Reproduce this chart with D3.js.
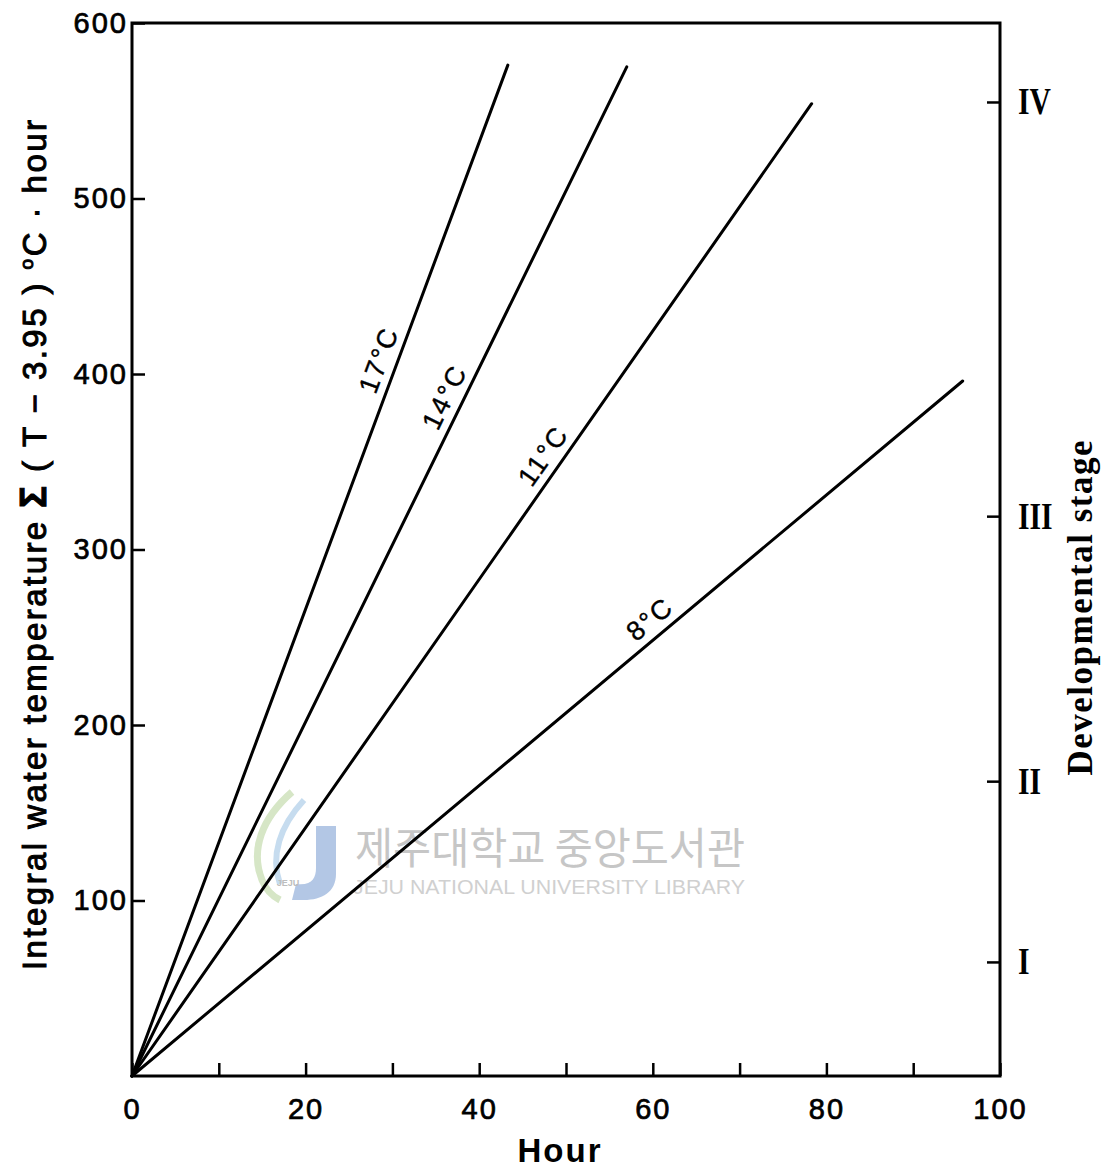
<!DOCTYPE html>
<html>
<head>
<meta charset="utf-8">
<script src="https://cdn.jsdelivr.net/npm/d3@7"></script>
<style>
  body { margin: 0; background: #fff; }
  svg { display: block; }
</style>
</head>
<body>
<svg id="chart" width="1107" height="1171"></svg>
<script>
// Cumulative thermal sum above 3.95 °C, one straight line per rearing temperature
const temps = [17, 14, 11, 8];
const endHours = [43.3, 57.0, 78.3, 95.7];
const endSums = [576, 575, 554, 396];
const labelHours = [30.4, 37.9, 49.1, 61.0];

// Axis ticks
const xTicks = [0, 10, 20, 30, 40, 50, 60, 70, 80, 90, 100];
const xLabels = [0, 20, 40, 60, 80, 100];
const yTicks = [100, 200, 300, 400, 500, 600];

// Developmental stages on the right-hand axis
const stageNames = ["I", "II", "III", "IV"];
const stageSums = [65, 168, 319, 555];

const svg = d3.select("#chart");
const m = { left: 132, right: 1000, top: 23, bottom: 1076 };

const x = d3.scaleLinear().domain([0, 100]).range([m.left, m.right]);
const y = d3.scaleLinear().domain([0, 600]).range([m.bottom, m.top]);

const sans = "'Liberation Sans', Arial, sans-serif";
const serif = "'Liberation Serif', 'Times New Roman', serif";

// ---- library watermark (drawn first, underneath the data) ----
const wm = svg.append("g").attr("class", "watermark");
wm.append("path")
  .attr("d", "M292,792 C262,818 250,850 262,880 C266,890 272,896 280,900")
  .attr("fill", "none").attr("stroke", "#d6e6c6").attr("stroke-width", 7);
wm.append("path")
  .attr("d", "M304,800 C280,826 270,856 280,884")
  .attr("fill", "none").attr("stroke", "#c6dcef").attr("stroke-width", 6);
wm.append("path")
  .attr("d", "M316,826 L336,826 L336,874 C336,892 322,900 304,900 L292,900 L296,884 C312,886 316,878 316,868 Z")
  .attr("fill", "#b3c7e5");
wm.append("text")
  .attr("x", 288).attr("y", 886)
  .attr("text-anchor", "middle")
  .attr("font-family", sans).attr("font-size", 9).attr("font-weight", "bold")
  .attr("fill", "#bdbdbd")
  .text("JEJU");
wm.append("text")
  .attr("x", 355).attr("y", 864)
  .attr("font-family", "'Noto Sans CJK KR', sans-serif")
  .attr("font-size", 43)
  .attr("fill", "#c6c6c6")
  .attr("textLength", 390).attr("lengthAdjust", "spacingAndGlyphs")
  .text("제주대학교 중앙도서관");
wm.append("text")
  .attr("x", 353).attr("y", 894)
  .attr("font-family", sans)
  .attr("font-size", 20)
  .attr("fill", "#d0d0d0")
  .attr("textLength", 392).attr("lengthAdjust", "spacingAndGlyphs")
  .text("JEJU NATIONAL UNIVERSITY  LIBRARY");

// ---- frame ----
svg.append("rect")
  .attr("x", m.left).attr("y", m.top)
  .attr("width", m.right - m.left).attr("height", m.bottom - m.top)
  .attr("fill", "none").attr("stroke", "#000").attr("stroke-width", 3);

// ---- bottom axis (ticks point into the plot) ----
const xAxis = d3.axisBottom(x)
  .tickValues(xTicks)
  .tickSizeInner(-13).tickSizeOuter(0).tickPadding(22)
  .tickFormat(d => xLabels.includes(d) ? d : "");
const gx = svg.append("g").attr("transform", `translate(0,${m.bottom})`).call(xAxis);
gx.select(".domain").remove();
gx.selectAll(".tick line").attr("stroke", "#000").attr("stroke-width", 2.5);
gx.selectAll(".tick text")
  .attr("font-family", sans).attr("font-size", 29).attr("letter-spacing", 2)
  .attr("fill", "#000").attr("stroke", "#000").attr("stroke-width", 0.7);

// ---- left axis ----
const yAxis = d3.axisLeft(y)
  .tickValues(yTicks)
  .tickSizeInner(-13).tickSizeOuter(0).tickPadding(4);
const gy = svg.append("g").attr("transform", `translate(${m.left},0)`).call(yAxis);
gy.select(".domain").remove();
gy.selectAll(".tick line").attr("stroke", "#000").attr("stroke-width", 2.5);
gy.selectAll(".tick text")
  .attr("font-family", sans).attr("font-size", 29).attr("letter-spacing", 2)
  .attr("fill", "#000").attr("stroke", "#000").attr("stroke-width", 0.7);

// ---- right axis: developmental stages ----
const sAxis = d3.axisRight(y)
  .tickValues(stageSums)
  .tickSizeInner(-13).tickSizeOuter(0)
  .tickFormat((d, i) => stageNames[i]);
const gs = svg.append("g").attr("transform", `translate(${m.right},0)`).call(sAxis);
gs.select(".domain").remove();
gs.selectAll(".tick line").attr("stroke", "#000").attr("stroke-width", 2.5);
gs.selectAll(".tick text")
  .attr("x", 0)
  .attr("transform", "translate(18,0) scale(0.8,1)")
  .attr("font-family", serif).attr("font-size", 37).attr("font-weight", "bold")
  .attr("fill", "#000");

// ---- thermal-sum lines ----
const line = d3.line().x(d => x(d[0])).y(d => y(d[1]));
const series = temps.map((t, i) => ({
  temp: t,
  pts: [[0, 0], [endHours[i], endSums[i]]],
  labelHour: labelHours[i]
}));

svg.append("g").selectAll("path")
  .data(series)
  .join("path")
  .attr("d", d => line(d.pts))
  .attr("fill", "none")
  .attr("stroke", "#000")
  .attr("stroke-width", 3)
  .attr("stroke-linecap", "round");

// labels written along each line
svg.append("g").selectAll("text")
  .data(series)
  .join("text")
  .attr("transform", d => {
    const [h1, v1] = d.pts[1];
    const dx = x(h1) - x(0), dy = y(v1) - y(0);
    const ang = Math.atan2(dy, dx) * 180 / Math.PI;
    const h = d.labelHour;
    const px = x(h), py = y(v1 * h / h1);
    return `translate(${px},${py}) rotate(${ang})`;
  })
  .attr("y", -9)
  .attr("text-anchor", "middle")
  .attr("font-family", sans)
  .attr("font-size", 27)
  .attr("letter-spacing", 2)
  .attr("fill", "#000").attr("stroke", "#000").attr("stroke-width", 0.4)
  .text(d => `${d.temp}°C`);

// ---- axis titles ----
svg.append("text")
  .attr("x", (m.left + m.right) / 2 - 6).attr("y", 1162)
  .attr("text-anchor", "middle")
  .attr("font-family", sans).attr("font-size", 33).attr("font-weight", "bold")
  .attr("letter-spacing", 2)
  .text("Hour");

const yt = svg.append("text")
  .attr("transform", "translate(46,545) rotate(-90)")
  .attr("text-anchor", "middle")
  .attr("font-family", sans).attr("font-size", 33)
  .attr("fill", "#000").attr("stroke", "#000").attr("stroke-width", 1)
  .attr("textLength", 850).attr("lengthAdjust", "spacing");
yt.append("tspan").text("Integral water temperature ");
yt.append("tspan").attr("font-size", 36).attr("font-weight", "bold").text("Σ");
yt.append("tspan").text(" ( T − 3.95 ) ");
yt.append("tspan").attr("font-size", 19).attr("dy", -13).text("o");
yt.append("tspan").attr("dy", 13).text("C · hour");

svg.append("text")
  .attr("transform", "translate(1092,608) rotate(-90)")
  .attr("text-anchor", "middle")
  .attr("font-family", serif).attr("font-size", 35).attr("font-weight", "bold")
  .attr("textLength", 335).attr("lengthAdjust", "spacing")
  .text("Developmental stage");
</script>
</body>
</html>
